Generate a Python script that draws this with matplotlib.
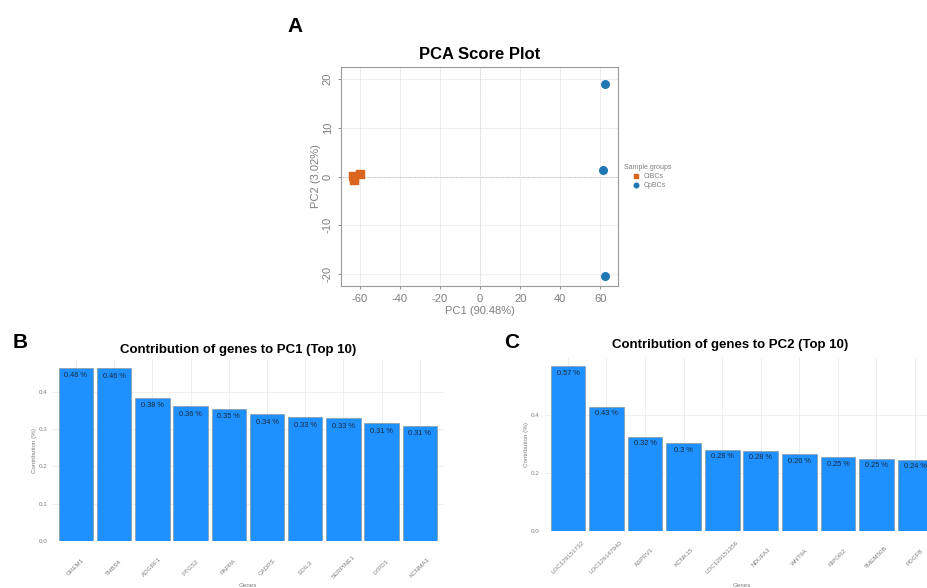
import matplotlib
matplotlib.use("Agg")
import matplotlib.pyplot as plt
import numpy as np

plt.rcParams['font.family'] = ['Liberation Sans', 'DejaVu Sans']
plt.rcParams['axes.unicode_minus'] = False

# PCA scores
ci_pc1 = [-63.5, -63.0, -60.0, -62.8]
ci_pc2 = [0.1, -0.8, 0.5, -0.3]
cp_pc1 = [62.5, 61.5, 62.5]
cp_pc2 = [19.0, 1.3, -20.5]

# contributions to PC1
pc1_genes = ['GREM1', 'THBS4', 'ADGRF1', 'PTGS2', 'PAPPA', 'CADPS', 'EDIL3',
             'SERPINE1', 'LYPD1', 'KCNMA1']
pc1_vals = [0.465, 0.464, 0.385, 0.361, 0.355, 0.340, 0.332, 0.329, 0.316, 0.309]
pc1_labels = ['0.46 %', '0.46 %', '0.38 %', '0.36 %', '0.35 %', '0.34 %', '0.33 %',
              '0.33 %', '0.31 %', '0.31 %']

# contributions to PC2
pc2_genes = ['LOC129151732', 'LOC129147940', 'ASPRV1', 'KCNK15', 'LOC129151356',
             'NDUFA3', 'WNT9A', 'RIPOR2', 'TMEM50B', 'PDGFB']
pc2_vals = [0.568, 0.429, 0.325, 0.302, 0.281, 0.276, 0.264, 0.255, 0.250, 0.245]
pc2_labels = ['0.57 %', '0.43 %', '0.32 %', '0.3 %', '0.28 %', '0.28 %', '0.26 %',
              '0.25 %', '0.25 %', '0.24 %']

fig = plt.figure(figsize=(9.28, 5.88), dpi=100)
grey = '#7f7f7f'

# ---- panel A
ax = fig.add_axes([0.3675, 0.5136, 0.2985, 0.3724])
ax.grid(True, color='#ebebeb', lw=0.6)
ax.set_axisbelow(True)
ax.axhline(0, color='#d0d0d0', lw=0.7, ls='--', zorder=1)
ax.axvline(0, color='#d0d0d0', lw=0.7, ls=':', zorder=1)
ax.scatter(ci_pc1, ci_pc2, marker='s', s=34, color='#D9651E', label='CiBCs', zorder=3)
ax.scatter(cp_pc1, cp_pc2, marker='o', s=30, color='#1F78B4', label='CpBCs', zorder=3)
ax.set_xlim(-69.3, 68.8)
ax.set_ylim(-22.5, 22.5)
ax.set_xticks([-60, -40, -20, 0, 20, 40, 60])
ax.set_yticks([-20, -10, 0, 10, 20])
ax.tick_params(labelsize=8, colors=grey, length=2.5, width=0.6)
for lbl in ax.get_yticklabels():
    lbl.set_rotation(90)
    lbl.set_va('center')
for s in ax.spines.values():
    s.set_color('#9a9a9a')
    s.set_linewidth(0.8)
ax.set_xlabel('PC1 (90.48%)', fontsize=8, color=grey, labelpad=1)
ax.set_ylabel('PC2 (3.02%)', fontsize=8, color=grey, labelpad=1)
ax.set_title('PCA Score Plot', fontsize=12, fontweight='bold', pad=6)
leg = ax.legend(title='Sample groups', loc='center left', bbox_to_anchor=(1.0, 0.50),
                frameon=False, fontsize=5, title_fontsize=5, handletextpad=0.1,
                markerscale=0.6, labelspacing=0.3, borderaxespad=0.4)
for t in leg.get_texts():
    t.set_color(grey)
leg.get_title().set_color(grey)
fig.text(0.318, 0.955, 'A', fontsize=15, fontweight='bold', ha='center', va='center')


def contrib(ax, genes, vals, labels, title, title_x, title_pad, xlab_y):
    x = np.arange(len(genes))
    ax.bar(x, vals, width=0.9, color='#1E90FF', edgecolor='#8a8a8a', linewidth=0.4, zorder=2)
    for xi, v, lab in zip(x, vals, labels):
        ax.text(xi, v - 0.012, lab, ha='center', va='top', fontsize=5.3, color='#1a2a3a', zorder=3)
    ax.set_xlim(-0.6, len(genes) - 0.4)
    ax.set_ylim(0, max(vals) * 1.05)
    ax.set_xticks(x)
    ax.set_xticklabels(genes, rotation=45, ha='center', va='center', rotation_mode='anchor')
    ax.tick_params(axis='x', labelsize=4.5, colors=grey, length=0, pad=19)
    ax.tick_params(axis='y', labelsize=4.5, colors=grey, length=0, pad=4)
    ax.grid(True, color='#ececec', lw=0.6)
    ax.set_axisbelow(True)
    for s in ax.spines.values():
        s.set_visible(False)
    ax.set_xlabel('Genes', fontsize=4.5, color=grey, va='center')
    ax.xaxis.set_label_coords(0.5, xlab_y)
    ax.set_ylabel('Contribution (%)', fontsize=4.5, color=grey, labelpad=1)
    ax.set_title(title, fontsize=9.5, fontweight='bold', pad=title_pad, x=title_x)


# ---- panel B
axb = fig.add_axes([0.0571, 0.0799, 0.42, 0.3095])
contrib(axb, pc1_genes, pc1_vals, pc1_labels, 'Contribution of genes to PC1 (Top 10)',
        0.474, 4, -0.242)
axb.set_yticks([0.0, 0.1, 0.2, 0.3, 0.4])
fig.text(0.022, 0.418, 'B', fontsize=15, fontweight='bold', ha='center', va='center')

# ---- panel C (runs past the right edge)
axc = fig.add_axes([0.587, 0.0969, 0.424, 0.294])
contrib(axc, pc2_genes, pc2_vals, pc2_labels, 'Contribution of genes to PC2 (Top 10)',
        0.472, 7, -0.318)
axc.set_yticks([0.0, 0.2, 0.4])
fig.text(0.551, 0.418, 'C', fontsize=15, fontweight='bold', ha='center', va='center')

fig.savefig('out.png', dpi=100, facecolor='white')
